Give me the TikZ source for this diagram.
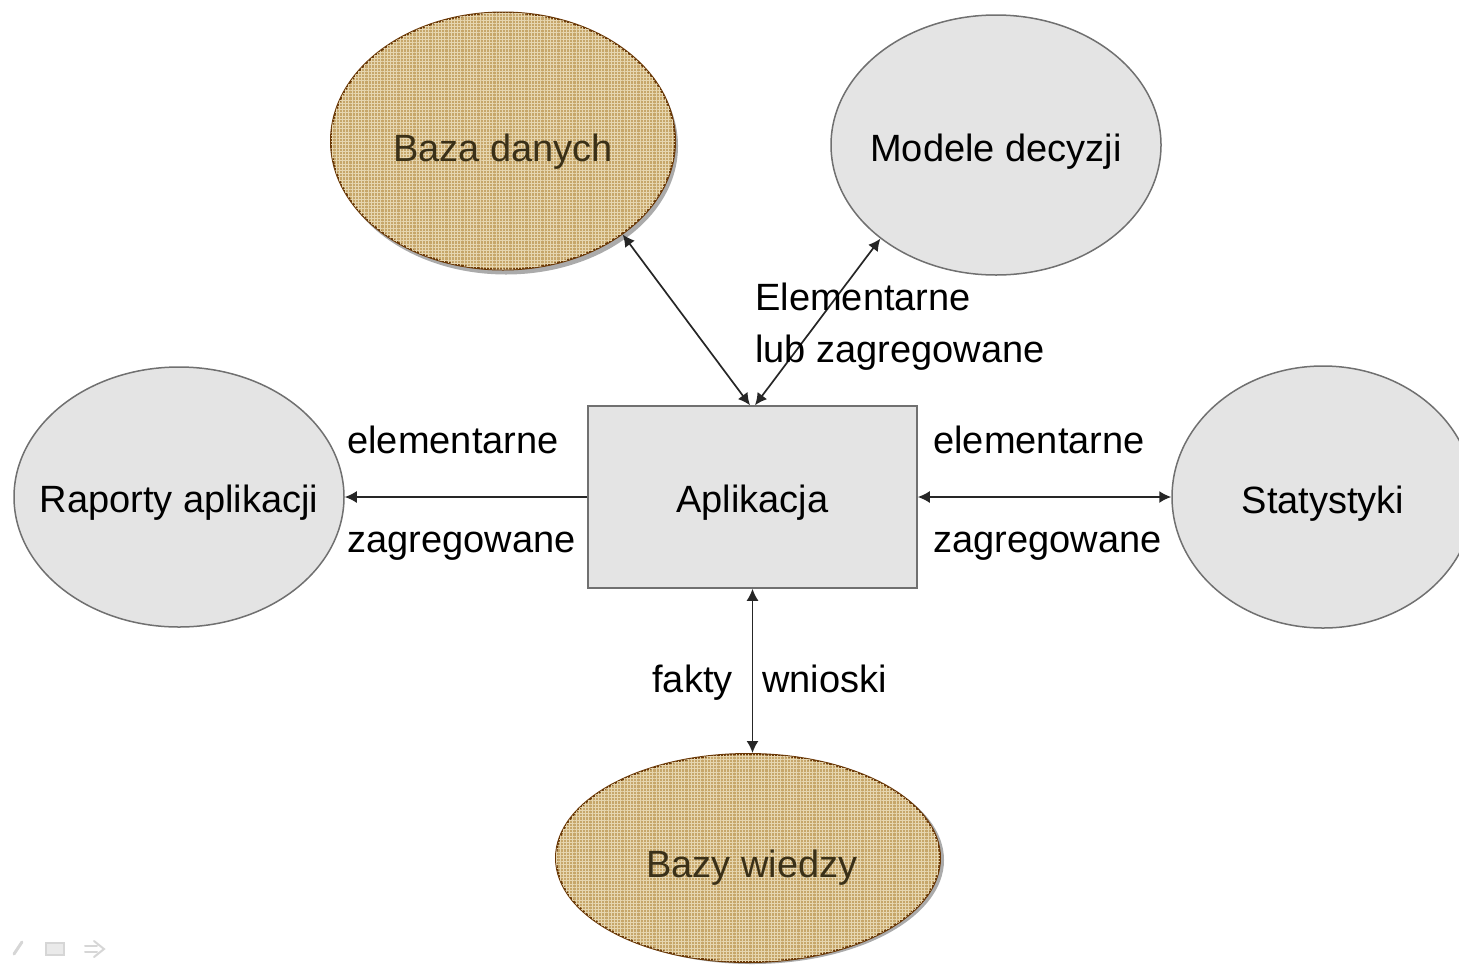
\documentclass[tikz,border=0pt]{standalone}
\usepackage{fontspec}
\setmainfont{Liberation Sans}
\usetikzlibrary{shapes.geometric,arrows.meta,patterns.meta}

\definecolor{nodefill}{HTML}{E4E4E4}
\definecolor{nodeline}{HTML}{707070}
\definecolor{texbase}{HTML}{C6A66A}
\definecolor{texline}{HTML}{E6D6B0}
\definecolor{brownline}{HTML}{6A3806}
\definecolor{browntext}{HTML}{3A3018}
\definecolor{shadowgray}{HTML}{ABABAB}
\definecolor{linecol}{HTML}{262626}
\definecolor{icongray}{HTML}{D6D6D6}

\begin{document}
\begin{tikzpicture}[x=0.5pt,y=-0.5pt,
  grayell/.style={ellipse, draw=nodeline, line width=0.75pt, fill=nodefill, inner sep=0pt},
  brownell/.style={ellipse, draw=brownline, line width=1pt, fill=texbase, inner sep=0pt,
    postaction={pattern={Lines[angle=0,distance=1.6pt,line width=0.35pt]}, pattern color=texline},
    postaction={pattern={Lines[angle=90,distance=1.6pt,line width=0.35pt]}, pattern color=texline}},
  shadowell/.style={ellipse, fill=shadowgray, inner sep=0pt},
  appbox/.style={rectangle, draw=nodeline, line width=0.75pt, fill=nodefill, inner sep=0pt,
    minimum width=164.5pt, minimum height=91pt},
  lbl/.style={inner sep=0pt, font=\fontsize{19}{23}\selectfont, text=black},
  brownlbl/.style={lbl, text=browntext},
  arr/.style={draw=linecol, line width=0.85pt, -{Latex[length=6pt,width=6pt]}},
  darr/.style={draw=linecol, line width=0.85pt, {Latex[length=6pt,width=6pt]}-{Latex[length=6pt,width=6pt]}},
  icon/.style={draw=icongray, line width=1pt, line cap=round}
]
\useasboundingbox (0,0) rectangle (1459,964);
\clip (0,0) rectangle (1459,964);

% shadows of the textured ellipses
\node[shadowell, minimum width=172pt, minimum height=128.5pt] (bazaSh) at (506,146) {};
\node[shadowell, minimum width=192pt, minimum height=104pt] (wiedzaSh) at (752,860) {};

% nodes
\node[brownell, minimum width=172pt, minimum height=128.5pt] (baza) at (503,141) {};
\node[grayell, minimum width=165pt, minimum height=130pt] (modele) at (996,145) {};
\node[grayell, minimum width=165pt, minimum height=130pt] (raporty) at (179,497) {};
\node[grayell, minimum width=151pt, minimum height=131pt] (stat) at (1323,497) {};
\node[brownell, minimum width=192pt, minimum height=104pt] (wiedza) at (748,858) {};
\node[appbox] (app) at (752.5,497) {};

% node captions
\node[brownlbl, anchor=base] (bazaT) at ([yshift=-10pt]baza.center) {Baza danych};
\node[lbl, anchor=base] (modeleT) at ([yshift=-8pt]modele.center) {Modele decyzji};
\node[lbl, anchor=base] (raportyT) at ([yshift=-7.5pt]raporty.center) {Raporty aplikacji};
\node[lbl, anchor=base] (statT) at ([yshift=-8pt]stat.center) {Statystyki};
\node[brownlbl, anchor=base] (wiedzaT) at ([xshift=2pt,yshift=-9.5pt]wiedza.center) {Bazy wiedzy};
\node[lbl, anchor=base] (appT) at ([yshift=-7.5pt]app.center) {Aplikacja};

% connectors
\draw[darr] (baza.-38) -- ([xshift=-1.25pt]app.north);
\draw[darr] (modele.-141) -- ([xshift=1.25pt]app.north);
\draw[arr] (app.west) -- (raporty.east);
\draw[darr] (app.east) -- (stat.west);
\draw[darr] (app.south) -- (app.south |- wiedza.north);

% connector labels
\node[lbl, anchor=base west] (l1) at (755,310) {Elementarne};
\node[lbl, anchor=base west] (l2) at (755,362) {lub zagregowane};
\node[lbl, anchor=base west] (l3) at (347,453) {elementarne};
\node[lbl, anchor=base west] (l4) at (347,552) {zagregowane};
\node[lbl, anchor=base west] (l5) at (933,453) {elementarne};
\node[lbl, anchor=base west] (l6) at (933,552) {zagregowane};
\node[lbl, anchor=base east] (l7) at (733,692) {fakty};
\node[lbl, anchor=base west] (l8) at (762,692) {wnioski};

% faint slide controls in the corner
\draw[icon, line width=1.5pt] (14,954) -- (22,942);
\draw[icon, fill=icongray!50] (46,943) rectangle (64,955);
\draw[icon] (85,946) -- (97,946) (85,952) -- (97,952);
\draw[icon] (94,941) -- (104,949) -- (94,957);
\end{tikzpicture}
\end{document}
